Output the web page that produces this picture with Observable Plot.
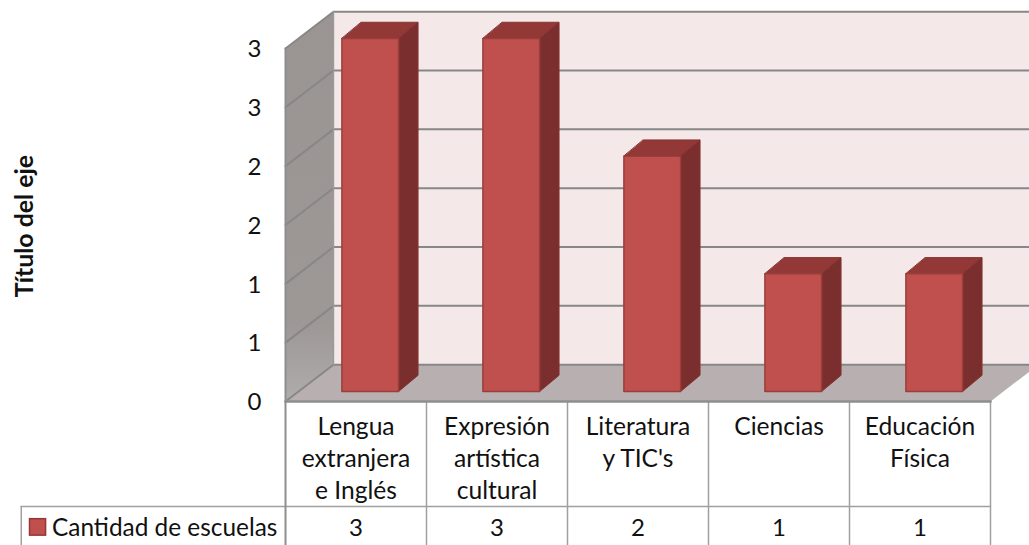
<!DOCTYPE html>
<html lang="es">
<head>
<meta charset="utf-8">
<script src="https://cdn.jsdelivr.net/npm/d3@7"></script>
<script src="https://cdn.jsdelivr.net/npm/@observablehq/plot@0.6"></script>
<style>
html,body{margin:0;padding:0;background:#fff;}
svg{display:block;}
</style>
</head>
<body>
<div id="chart"></div>
<script>
const categories = ["Lengua\nextranjera\ne Inglés", "Expresión\nartística\ncultural", "Literatura\ny TIC's", "Ciencias", "Educación\nFísica"];
const values = [3, 3, 2, 1, 1];
const yTicks = [0, 0.5, 1, 1.5, 2, 2.5, 3];
const seriesName = "Cantidad de escuelas";
const axisTitle = "Título del eje";

// Depth of the 3D box and of the bars, in data units
const depthX = 0.34, depthY = 0.313;
const barL = 0.4, barR = 0.802, barLift = 0.085, barDX = 0.138, barDY = 0.138;
// Table rows, in data units below the zero line
const rowY = -0.892, tableBottom = -1.3, tableLeft = -1.874;
const n = categories.length, yMax = 3;

const xVal = d => d[0], yVal = d => d[1];
const face = (pts, fill, stroke = "none", strokeWidth = 1) =>
  Plot.line(pts, {x: xVal, y: yVal, fill, stroke, strokeWidth, curve: "linear-closed"});
const seg = (pts, stroke = "#878787", strokeWidth = 2) =>
  Plot.line(pts, {x: xVal, y: yVal, stroke, strokeWidth, curve: "linear"});

const marks = [];
// gradient for the left wall
marks.push(() => {
  const ns = "http://www.w3.org/2000/svg";
  const defs = document.createElementNS(ns, "defs");
  const g = document.createElementNS(ns, "linearGradient");
  g.setAttribute("id", "leftWall");
  g.setAttribute("x1", 0); g.setAttribute("x2", 0); g.setAttribute("y1", 0); g.setAttribute("y2", 1);
  for (const [o, c] of [[0, "#9a9593"], [0.8, "#9d9896"], [1, "#b0acac"]]) {
    const s = document.createElementNS(ns, "stop");
    s.setAttribute("offset", o); s.setAttribute("stop-color", c);
    g.append(s);
  }
  defs.append(g);
  return defs;
});
// back wall, floor, left wall
marks.push(face([[depthX, depthY], [n + depthX, depthY], [n + depthX, yMax + depthY], [depthX, yMax + depthY]], "#f4e8e8"));
marks.push(face([[0, 0], [n, 0], [n + depthX, depthY], [depthX, depthY]], "#b8b0b0"));
marks.push(face([[0, 0], [depthX, depthY], [depthX, yMax + depthY], [0, yMax]], "url(#leftWall)"));
// gridlines along left and back walls
for (const t of yTicks) {
  marks.push(seg([[0, t], [depthX, t + depthY], [n + depthX, t + depthY]]));
}
marks.push(seg([[depthX, depthY], [depthX, yMax + depthY]], "#9a9a9a", 1.5));
// bars
values.forEach((v, i) => {
  const L = i + barL, R = i + barR, b = barLift, t = v + barLift;
  marks.push(face([[L, t], [R, t], [R + barDX, t + barDY], [L + barDX, t + barDY]], "#923836", "#8a3432", 1));
  marks.push(face([[R, b], [R + barDX, b + barDY], [R + barDX, t + barDY], [R, t]], "#7a2f2e", "#84312f", 1));
  marks.push(face([[L, b], [R, b], [R, t], [L, t]], "#c0504d", "#9a3e3b", 1.5));
});
// data table
const tableStroke = "#a0a0a0";
marks.push(seg([[tableLeft, rowY], [n, rowY]], tableStroke, 1.5));
marks.push(seg([[tableLeft, rowY], [tableLeft, tableBottom]], tableStroke, 1.5));
for (let i = 1; i <= n; i++) marks.push(seg([[i, 0], [i, tableBottom]], tableStroke, 1.5));
marks.push(seg([[0, yMax], [0, tableBottom]], "#8e8e8e", 2));
marks.push(seg([[0, 0], [n, 0]], "#8e8e8e", 2.5));
// category labels and values
const font = "Lato, 'Open Sans', sans-serif";
marks.push(Plot.text(categories, {
  x: (d, i) => i + 0.5, y: -0.09, text: d => d, lineAnchor: "top", lineHeight: 1.31,
  fontSize: 24.6, fill: "#111", fontFamily: font
}));
marks.push(Plot.text(values, {
  x: (d, i) => i + 0.5, y: -1.08, text: d => String(d),
  fontSize: 24, fill: "#111", fontFamily: font
}));
// legend key
marks.push(Plot.text([seriesName], {
  x: -1.656, y: -1.08, text: d => d, textAnchor: "start",
  fontSize: 24.4, fill: "#111", fontFamily: font
}));
marks.push(Plot.rect([0], {x1: -1.812, x2: -1.698, y1: -1.14, y2: -1.0, fill: "#c0504d", stroke: "#953735", strokeWidth: 1.5}));
// y axis and title
marks.push(Plot.axisY({
  ticks: yTicks, tickSize: 0, tickPadding: 24, label: null, dy: 1,
  tickFormat: d => String(Math.round(d)), fontSize: 24, fill: "#111", fontFamily: font
}));
marks.push(Plot.text([axisTitle], {
  x: -1.85, y: 1.49, text: d => d, rotate: -90,
  fontSize: 24.8, fontWeight: "bold", fill: "#111", fontFamily: font
}));

const chart = Plot.plot({
  width: 1029, height: 545,
  marginLeft: 285, marginRight: 39, marginTop: 48, marginBottom: 144,
  style: {background: "#fff", fontFamily: font},
  x: {type: "linear", domain: [0, n], axis: null},
  y: {domain: [0, yMax], axis: null},
  marks
});
document.getElementById("chart").append(chart);
</script>
</body>
</html>
